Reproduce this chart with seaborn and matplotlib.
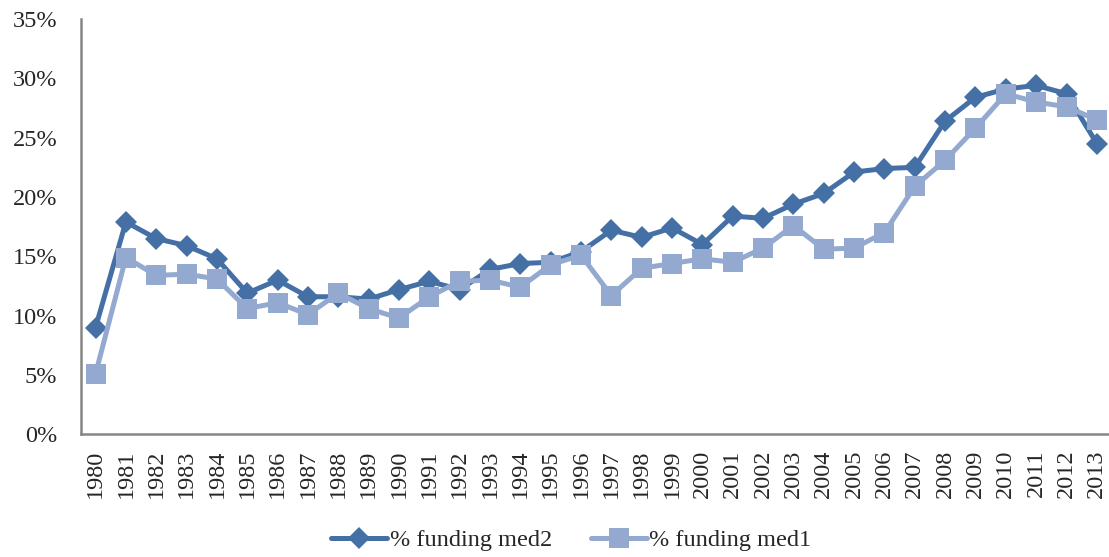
import numpy as np
import pandas as pd
import matplotlib
matplotlib.use("Agg")
import matplotlib.pyplot as plt
import seaborn as sns
from matplotlib.ticker import PercentFormatter

years = list(range(1980, 2014))
med2 = [9.0, 17.9, 16.5, 15.9, 14.8, 11.9, 13.0, 11.6, 11.6, 11.4, 12.2,
        12.9, 12.2, 13.9, 14.4, 14.5, 15.4, 17.2, 16.6, 17.4, 16.0, 18.4,
        18.2, 19.4, 20.3, 22.1, 22.4, 22.5, 26.4, 28.4, 29.1, 29.4, 28.7,
        24.5]
med1 = [5.1, 14.9, 13.4, 13.5, 13.1, 10.6, 11.1, 10.1, 11.9, 10.6, 9.8,
        11.6, 12.9, 13.0, 12.4, 14.3, 15.1, 11.7, 14.0, 14.4, 14.8, 14.5,
        15.7, 17.6, 15.6, 15.7, 17.0, 20.9, 23.1, 25.8, 28.7, 28.0, 27.6,
        26.5]

dark = "#4470A6"
light = "#93A9CF"

sns.set_style("white")
plt.rcParams['font.family'] = ['Liberation Serif', 'DejaVu Serif']

df = pd.DataFrame({"year": years, "med2": med2, "med1": med1})
df["pos"] = np.arange(len(years))

fig = plt.figure(figsize=(11.09, 5.57), dpi=100)
ax = fig.add_axes([0.073, 0.22, 0.927, 0.746])

sns.lineplot(data=df, x="pos", y="med2", ax=ax, color=dark, lw=3.6,
             marker="D", markersize=11, markeredgewidth=0,
             label="% funding med2")
sns.lineplot(data=df, x="pos", y="med1", ax=ax, color=light, lw=3.6,
             marker="s", markersize=14, markeredgewidth=0,
             label="% funding med1")

ax.set_xlim(-0.48, 33.4)
ax.set_ylim(0, 35)
ax.set_yticks(np.arange(0, 36, 5))
ax.yaxis.set_major_formatter(PercentFormatter(decimals=0))
ax.set_xticks(df["pos"])
ax.set_xticklabels([str(y) for y in years], rotation=90)
ax.tick_params(axis="both", labelsize=17.5, length=0)
ax.tick_params(axis="y", pad=17)
ax.tick_params(axis="x", pad=11)
ax.set_xlabel("")
ax.set_ylabel("")

for s in ["top", "right"]:
    ax.spines[s].set_visible(False)
for s in ["left", "bottom"]:
    ax.spines[s].set_color("#868686")
    ax.spines[s].set_linewidth(1.8)

ax.legend(loc="center", bbox_to_anchor=(0.515, 0.03),
          bbox_transform=fig.transFigure, ncol=2, frameon=False,
          fontsize=17.5, handlelength=2.3, handletextpad=0.1,
          columnspacing=1.6)

fig.savefig("out.png", dpi=100)
